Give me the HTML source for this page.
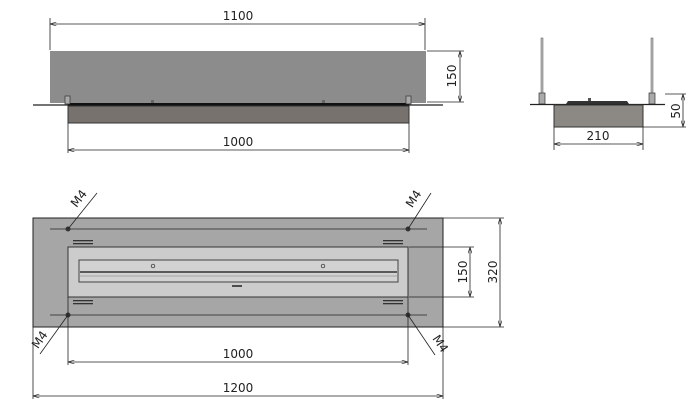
<!DOCTYPE html>
<html><head><meta charset="utf-8"><style>
html,body{margin:0;padding:0;background:#fff;}
svg{display:block}
text{font-family:"DejaVu Sans","Liberation Sans",sans-serif;font-size:12px;fill:#222}
</style></head><body>
<svg width="692" height="408" viewBox="0 0 692 408" xmlns="http://www.w3.org/2000/svg">
<defs>
<marker id="a" viewBox="0 0 10 6" refX="10" refY="3" markerWidth="8" markerHeight="5" orient="auto-start-reverse"><path d="M0,0L10,3L0,6" fill="none" stroke="#222" stroke-width="1"/></marker>
</defs>
<g stroke="#222" stroke-width="1" fill="none">
<!-- TOP FRONT VIEW -->
<rect x="50" y="51" width="376" height="52" fill="#8c8c8c" stroke="none"/>
<line x1="33" y1="105" x2="443" y2="105" stroke-width="1.2"/>
<rect x="68" y="103" width="341" height="3" fill="#111" stroke="none"/>
<rect x="68" y="106" width="341" height="17" fill="#77726e" stroke="#333"/>
<rect x="65" y="96" width="5" height="8" fill="#aaa" stroke="#333" stroke-width="0.7"/>
<rect x="406" y="96" width="5" height="8" fill="#aaa" stroke="#333" stroke-width="0.7"/>
<rect x="151" y="100" width="3" height="3" fill="#666" stroke="none"/>
<rect x="322" y="100" width="3" height="3" fill="#666" stroke="none"/>
<line x1="50" y1="18" x2="50" y2="50" stroke-width="0.8"/>
<line x1="425" y1="18" x2="425" y2="50" stroke-width="0.8"/>
<line x1="50" y1="24" x2="425" y2="24" marker-start="url(#a)" marker-end="url(#a)" stroke-width="0.8"/>
<line x1="68" y1="123" x2="68" y2="153" stroke-width="0.8"/>
<line x1="409" y1="123" x2="409" y2="153" stroke-width="0.8"/>
<line x1="68" y1="150" x2="409" y2="150" marker-start="url(#a)" marker-end="url(#a)" stroke-width="0.8"/>
<line x1="427" y1="51" x2="464" y2="51" stroke-width="0.8"/>
<line x1="427" y1="102" x2="464" y2="102" stroke-width="0.8"/>
<line x1="460" y1="51" x2="460" y2="102" marker-start="url(#a)" marker-end="url(#a)" stroke-width="0.8"/>
<!-- SIDE VIEW -->
<rect x="541" y="38" width="2" height="58" fill="#bbb" stroke="#555" stroke-width="0.5"/>
<rect x="651" y="38" width="2" height="58" fill="#bbb" stroke="#555" stroke-width="0.5"/>
<rect x="539" y="93" width="6" height="11" fill="#aaa" stroke="#333" stroke-width="0.7"/>
<rect x="649" y="93" width="6" height="11" fill="#aaa" stroke="#333" stroke-width="0.7"/>
<path d="M566,104 L568,101 L627,101 L629,104 Z" fill="#333" stroke="none"/>
<rect x="588" y="98" width="3" height="3" fill="#555" stroke="none"/>
<line x1="530" y1="104.5" x2="665" y2="104.5" stroke-width="1.2"/>
<rect x="554" y="105" width="89" height="22" fill="#8c8884" stroke="#333"/>
<line x1="554" y1="127" x2="554" y2="150" stroke-width="0.8"/>
<line x1="643" y1="127" x2="643" y2="150" stroke-width="0.8"/>
<line x1="554" y1="144" x2="643" y2="144" marker-start="url(#a)" marker-end="url(#a)" stroke-width="0.8"/>
<line x1="665" y1="94" x2="686" y2="94" stroke-width="0.8"/>
<line x1="643" y1="127" x2="686" y2="127" stroke-width="0.8"/>
<line x1="683" y1="94" x2="683" y2="127" marker-start="url(#a)" marker-end="url(#a)" stroke-width="0.8"/>
<!-- BOTTOM PLAN VIEW -->
<rect x="33" y="218" width="410" height="109" fill="#a6a6a6" stroke="#222"/>
<rect x="68" y="247" width="340" height="50" fill="#cccccc" stroke="#333"/>
<rect x="79" y="260" width="319" height="22" fill="#d2d2d2" stroke="#444"/>
<line x1="80" y1="272" x2="397" y2="272" stroke="#333" stroke-width="1.5"/>
<line x1="80" y1="276" x2="397" y2="276" stroke="#777" stroke-width="0.6"/>
<circle cx="153" cy="266" r="1.8" stroke-width="0.7"/>
<circle cx="323" cy="266" r="1.8" stroke-width="0.7"/>
<line x1="232" y1="286" x2="242" y2="286" stroke-width="1.5"/>
<line x1="50" y1="229" x2="427" y2="229" stroke="#444"/>
<line x1="50" y1="315" x2="427" y2="315" stroke="#444"/>
<g fill="#333" stroke="none">
<circle cx="68" cy="229" r="2.5"/><circle cx="408" cy="229" r="2.5"/>
<circle cx="68" cy="315" r="2.5"/><circle cx="408" cy="315" r="2.5"/>
<rect x="73" y="240" width="20" height="1.3"/><rect x="73" y="243" width="20" height="1.3"/>
<rect x="383" y="240" width="20" height="1.3"/><rect x="383" y="243" width="20" height="1.3"/>
<rect x="73" y="300" width="20" height="1.3"/><rect x="73" y="303" width="20" height="1.3"/>
<rect x="383" y="300" width="20" height="1.3"/><rect x="383" y="303" width="20" height="1.3"/>
</g>
<line x1="68" y1="229" x2="97" y2="193" stroke-width="0.8"/>
<line x1="408" y1="229" x2="431" y2="193" stroke-width="0.8"/>
<line x1="68" y1="315" x2="40" y2="354" stroke-width="0.8"/>
<line x1="408" y1="315" x2="435" y2="355" stroke-width="0.8"/>
<line x1="68" y1="297" x2="68" y2="365" stroke-width="0.8"/>
<line x1="408" y1="297" x2="408" y2="365" stroke-width="0.8"/>
<line x1="68" y1="362" x2="408" y2="362" marker-start="url(#a)" marker-end="url(#a)" stroke-width="0.8"/>
<line x1="33" y1="327" x2="33" y2="399" stroke-width="0.8"/>
<line x1="443" y1="327" x2="443" y2="399" stroke-width="0.8"/>
<line x1="33" y1="396" x2="443" y2="396" marker-start="url(#a)" marker-end="url(#a)" stroke-width="0.8"/>
<line x1="409" y1="247" x2="474" y2="247" stroke-width="0.8"/>
<line x1="409" y1="297" x2="474" y2="297" stroke-width="0.8"/>
<line x1="470" y1="247" x2="470" y2="297" marker-start="url(#a)" marker-end="url(#a)" stroke-width="0.8"/>
<line x1="443" y1="218" x2="504" y2="218" stroke-width="0.8"/>
<line x1="443" y1="327" x2="504" y2="327" stroke-width="0.8"/>
<line x1="500" y1="218" x2="500" y2="327" marker-start="url(#a)" marker-end="url(#a)" stroke-width="0.8"/>
</g>
<text x="238" y="20" text-anchor="middle">1100</text>
<text x="238" y="146" text-anchor="middle">1000</text>
<text transform="translate(456,76) rotate(-90)" text-anchor="middle">150</text>
<text x="598" y="140" text-anchor="middle">210</text>
<text transform="translate(680,111) rotate(-90)" text-anchor="middle">50</text>
<text x="238" y="358" text-anchor="middle">1000</text>
<text x="238" y="392" text-anchor="middle">1200</text>
<text transform="translate(467,272) rotate(-90)" text-anchor="middle">150</text>
<text transform="translate(497,272) rotate(-90)" text-anchor="middle">320</text>
<text transform="translate(82,201) rotate(-52)" text-anchor="middle" font-size="11">M4</text>
<text transform="translate(417,201) rotate(-57)" text-anchor="middle" font-size="11">M4</text>
<text transform="translate(43,342) rotate(-55)" text-anchor="middle" font-size="11">M4</text>
<text transform="translate(437,346) rotate(56)" text-anchor="middle" font-size="11">M4</text>
</svg>
</body></html>
